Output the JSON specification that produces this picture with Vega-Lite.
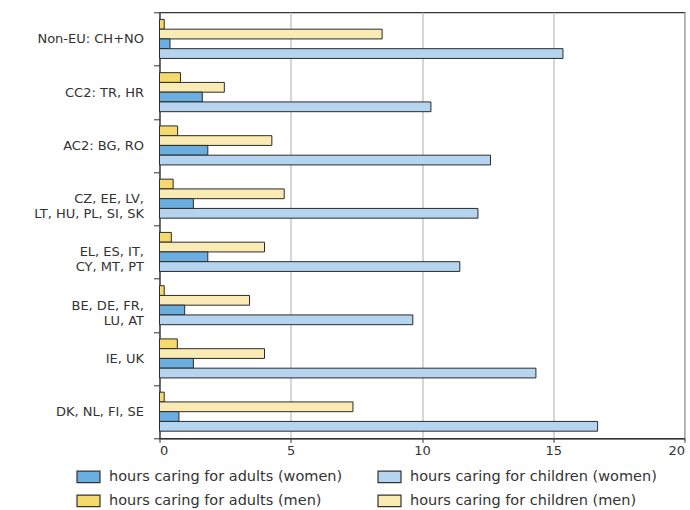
{
  "$schema": "https://vega.github.io/schema/vega-lite/v6.json",
  "width": 525,
  "height": 426,
  "autosize": {"type": "none"},
  "padding": {"left": 159.5, "top": 12.3, "right": 5.5, "bottom": 71.7},
  "background": "white",
  "config": {
    "view": {"stroke": "#333333", "strokeWidth": 1.2},
    "font": "DejaVu Sans"
  },
  "data": {
    "values": [
      {"region": "Non-EU: CH+NO", "series": "hours caring for adults (men)", "hours": 0.18},
      {"region": "Non-EU: CH+NO", "series": "hours caring for children (men)", "hours": 8.48},
      {"region": "Non-EU: CH+NO", "series": "hours caring for adults (women)", "hours": 0.4},
      {"region": "Non-EU: CH+NO", "series": "hours caring for children (women)", "hours": 15.37},
      {"region": "CC2: TR, HR", "series": "hours caring for adults (men)", "hours": 0.8},
      {"region": "CC2: TR, HR", "series": "hours caring for children (men)", "hours": 2.47},
      {"region": "CC2: TR, HR", "series": "hours caring for adults (women)", "hours": 1.63},
      {"region": "CC2: TR, HR", "series": "hours caring for children (women)", "hours": 10.34},
      {"region": "AC2: BG, RO", "series": "hours caring for adults (men)", "hours": 0.69},
      {"region": "AC2: BG, RO", "series": "hours caring for children (men)", "hours": 4.28},
      {"region": "AC2: BG, RO", "series": "hours caring for adults (women)", "hours": 1.84},
      {"region": "AC2: BG, RO", "series": "hours caring for children (women)", "hours": 12.61},
      {"region": "CZ, EE, LV,|LT, HU, PL, SI, SK", "series": "hours caring for adults (men)", "hours": 0.52},
      {"region": "CZ, EE, LV,|LT, HU, PL, SI, SK", "series": "hours caring for children (men)", "hours": 4.75},
      {"region": "CZ, EE, LV,|LT, HU, PL, SI, SK", "series": "hours caring for adults (women)", "hours": 1.29},
      {"region": "CZ, EE, LV,|LT, HU, PL, SI, SK", "series": "hours caring for children (women)", "hours": 12.13},
      {"region": "EL, ES, IT,|CY, MT, PT", "series": "hours caring for adults (men)", "hours": 0.45},
      {"region": "EL, ES, IT,|CY, MT, PT", "series": "hours caring for children (men)", "hours": 4.0},
      {"region": "EL, ES, IT,|CY, MT, PT", "series": "hours caring for adults (women)", "hours": 1.84},
      {"region": "EL, ES, IT,|CY, MT, PT", "series": "hours caring for children (women)", "hours": 11.44},
      {"region": "BE, DE, FR,|LU, AT", "series": "hours caring for adults (men)", "hours": 0.18},
      {"region": "BE, DE, FR,|LU, AT", "series": "hours caring for children (men)", "hours": 3.43},
      {"region": "BE, DE, FR,|LU, AT", "series": "hours caring for adults (women)", "hours": 0.96},
      {"region": "BE, DE, FR,|LU, AT", "series": "hours caring for children (women)", "hours": 9.65},
      {"region": "IE, UK", "series": "hours caring for adults (men)", "hours": 0.68},
      {"region": "IE, UK", "series": "hours caring for children (men)", "hours": 4.0},
      {"region": "IE, UK", "series": "hours caring for adults (women)", "hours": 1.29},
      {"region": "IE, UK", "series": "hours caring for children (women)", "hours": 14.34},
      {"region": "DK, NL, FI, SE", "series": "hours caring for adults (men)", "hours": 0.18},
      {"region": "DK, NL, FI, SE", "series": "hours caring for children (men)", "hours": 7.37},
      {"region": "DK, NL, FI, SE", "series": "hours caring for adults (women)", "hours": 0.74},
      {"region": "DK, NL, FI, SE", "series": "hours caring for children (women)", "hours": 16.69}
    ]
  },
  "mark": {"type": "bar", "stroke": "#2b2b2b", "strokeWidth": 1},
  "encoding": {
    "y": {
      "field": "region",
      "type": "nominal",
      "sort": ["Non-EU: CH+NO", "CC2: TR, HR", "AC2: BG, RO", "CZ, EE, LV,|LT, HU, PL, SI, SK", "EL, ES, IT,|CY, MT, PT", "BE, DE, FR,|LU, AT", "IE, UK", "DK, NL, FI, SE"],
      "scale": {"paddingInner": 0, "paddingOuter": 0},
      "axis": {
        "title": null,
        "tickBand": "extent",
        "tickSize": 6,
        "tickColor": "#333333",
        "domainColor": "#333333",
        "domainWidth": 1.2,
        "labelPadding": 10,
        "labelFontSize": 13,
        "labelColor": "#333333",
        "labelLineHeight": 15,
        "labelExpr": "split(datum.label, '|')"
      }
    },
    "yOffset": {
      "field": "series",
      "sort": ["hours caring for adults (men)", "hours caring for children (men)", "hours caring for adults (women)", "hours caring for children (women)"],
      "scale": {"paddingInner": 0, "paddingOuter": 0.73}
    },
    "x": {
      "field": "hours",
      "type": "quantitative",
      "scale": {"domain": [0, 20], "nice": false},
      "axis": {
        "title": null,
        "values": [0, 5, 10, 15, 20],
        "grid": true,
        "gridColor": "#c8c8c8",
        "gridWidth": 1.5,
        "tickSize": 4,
        "tickColor": "#333333",
        "domainColor": "#333333",
        "domainWidth": 1.2,
        "labelFontSize": 13,
        "labelColor": "#333333",
        "labelPadding": 2
      }
    },
    "color": {
      "field": "series",
      "type": "nominal",
      "scale": {
        "domain": ["hours caring for adults (women)", "hours caring for adults (men)", "hours caring for children (women)", "hours caring for children (men)"],
        "range": ["#6aaee0", "#f5d96c", "#b5d4ef", "#faebb5"]
      },
      "legend": {
        "title": null,
        "orient": "none",
        "legendX": -83.5,
        "legendY": 452,
        "columns": 2,
        "columnPadding": 32,
        "rowPadding": 3,
        "symbolType": "M-1,-0.5H1V0.5H-1Z",
        "symbolSize": 529,
        "symbolStrokeColor": "#333333",
        "symbolStrokeWidth": 1.2,
        "symbolOpacity": 1,
        "labelFontSize": 14.5,
        "labelColor": "#333333",
        "labelOffset": 8,
        "labelLimit": 300
      }
    }
  }
}
